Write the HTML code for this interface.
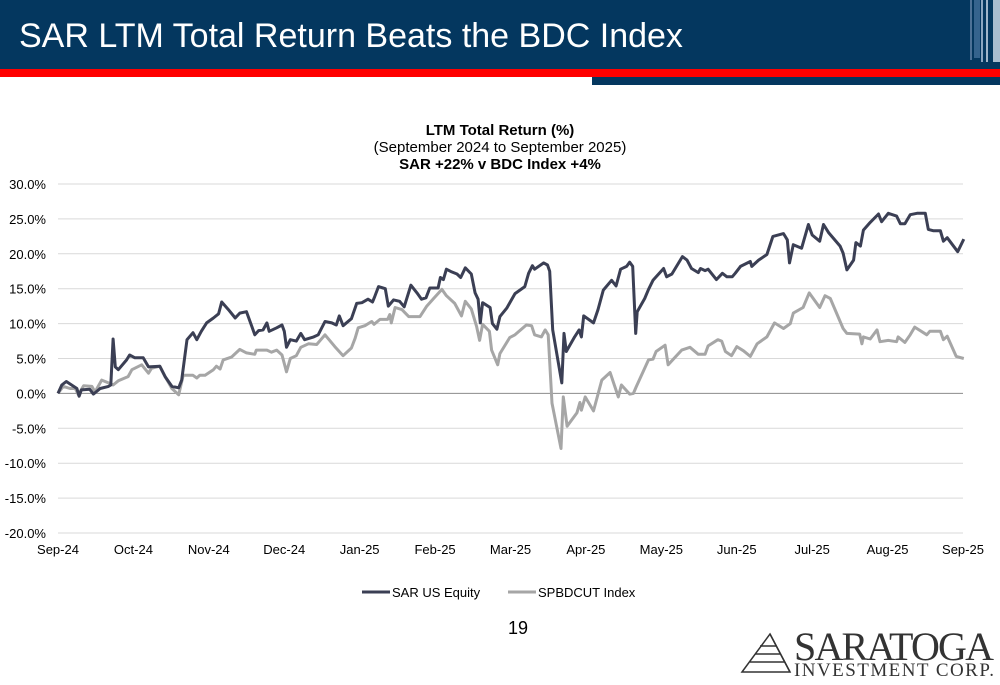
<!DOCTYPE html>
<html><head><meta charset="utf-8"><style>
body{margin:0;width:1000px;height:685px;overflow:hidden;background:#fff;font-family:"Liberation Sans",sans-serif;position:relative}
.hdr{position:absolute;left:0;top:0;width:1000px;height:69px;background:#04375f}
.red{position:absolute;left:0;top:69px;width:1000px;height:8px;background:#ff0000}
.blu{position:absolute;left:592px;top:77px;width:408px;height:8px;background:#04375f}
.ttl{position:absolute;left:19px;top:17px;color:#fff;font-size:34px;white-space:nowrap}
</style></head><body>
<div class="hdr"></div>
<svg style="position:absolute;left:965px;top:0" width="35" height="62">
<rect x="5" y="0" width="2" height="60" fill="#4d7196"/><rect x="9" y="0" width="6" height="58" fill="#35638d"/><rect x="16" y="0" width="2" height="62" fill="#8aa5c0"/><rect x="21" y="0" width="2" height="62" fill="#9fb5ca"/><rect x="28" y="0" width="7" height="62" fill="#a9bdd0"/>
</svg>
<div class="red"></div>
<div class="blu"></div>
<div class="ttl">SAR LTM Total Return Beats the BDC Index</div>
<svg id="chart" style="position:absolute;left:0;top:0" width="1000" height="685">
<text x="500" y="135" text-anchor="middle" font-size="15" font-weight="bold">LTM Total Return (%)</text>
<text x="500" y="152" text-anchor="middle" font-size="15">(September 2024 to September 2025)</text>
<text x="500" y="169" text-anchor="middle" font-size="15" font-weight="bold">SAR +22% v BDC Index +4%</text>
<g id="grid"></g><g id="lines"></g>
<g>
<line x1="362" y1="592" x2="390" y2="592" stroke="#3b3f54" stroke-width="3"/>
<text x="392" y="597" font-size="13">SAR US Equity</text>
<line x1="508" y1="592" x2="536" y2="592" stroke="#a6a6a6" stroke-width="3"/>
<text x="538" y="597" font-size="13">SPBDCUT Index</text>
</g>
<text x="518" y="634" text-anchor="middle" font-size="18">19</text>
<g>
<g stroke="#333" stroke-width="1.5" fill="none">
<path d="M742 672 L770 634 L790 672 Z"/><path d="M750 662 L785 662 M755 654 L780 654 M760 646 L776 646"/><path d="M770 634 L790 672"/>
</g>
<text x="794" y="660" font-family="Liberation Serif,serif" font-size="40" fill="#333" textLength="200">SARATOGA</text>
<text x="794" y="676" font-family="Liberation Serif,serif" font-size="19" fill="#333" textLength="200">INVESTMENT CORP.</text>
</g>
</svg>
<script>
const yTicks=[30,25,20,15,10,5,0,-5,-10,-15,-20];
const xLabels=["Sep-24","Oct-24","Nov-24","Dec-24","Jan-25","Feb-25","Mar-25","Apr-25","May-25","Jun-25","Jul-25","Aug-25","Sep-25"];
const sarT=[0,0.05,0.11,0.18,0.25,0.28,0.31,0.42,0.47,0.56,0.67,0.70,0.73,0.76,0.80,0.91,0.95,1.02,1.13,1.20,1.35,1.42,1.51,1.60,1.64,1.71,1.79,1.84,1.90,1.97,2.06,2.13,2.17,2.26,2.35,2.41,2.50,2.57,2.61,2.66,2.72,2.77,2.80,2.90,2.97,3.00,3.03,3.08,3.16,3.22,3.27,3.39,3.45,3.54,3.63,3.69,3.73,3.78,3.89,3.96,4.03,4.11,4.17,4.20,4.25,4.34,4.38,4.45,4.53,4.59,4.68,4.76,4.82,4.88,4.93,5.04,5.07,5.11,5.15,5.22,5.29,5.34,5.40,5.48,5.53,5.57,5.60,5.63,5.73,5.76,5.82,5.86,5.95,6.06,6.19,6.24,6.29,6.32,6.44,6.49,6.52,6.56,6.68,6.71,6.74,6.85,6.91,6.94,6.97,7.10,7.16,7.23,7.34,7.40,7.46,7.54,7.58,7.62,7.66,7.68,7.78,7.83,7.89,8.03,8.07,8.14,8.28,8.34,8.40,8.49,8.52,8.58,8.62,8.73,8.81,8.87,8.94,8.98,9.05,9.18,9.20,9.29,9.40,9.48,9.62,9.67,9.70,9.75,9.86,9.95,10.00,10.10,10.15,10.22,10.37,10.41,10.46,10.55,10.58,10.64,10.68,10.77,10.88,10.92,11.01,11.12,11.17,11.23,11.30,11.39,11.50,11.54,11.61,11.70,11.74,11.79,11.93,12.01];
const sarV=[0,1.2,1.7,1.2,0.7,-0.4,0.5,0.6,-0.1,0.7,1.0,1.2,7.8,3.8,3.4,4.8,5.5,5.1,5.1,3.8,3.9,2.4,1.0,0.8,1.9,7.7,8.7,7.7,8.9,10.1,10.8,11.4,13.1,12.0,10.8,11.5,11.7,9.6,8.4,9.0,9.1,10.1,8.9,9.4,9.8,8.9,6.6,7.7,7.5,8.6,7.7,8.1,8.4,10.3,10.1,9.8,11.1,9.7,10.7,12.9,13.0,13.5,13.1,13.9,15.3,15.0,12.5,13.4,13.2,12.4,15.5,14.4,13.5,13.7,15.1,15.1,16.6,16.3,17.8,17.4,17.1,16.6,18.0,17.1,14.4,13.5,10.1,13.0,12.3,10.0,9.2,11.0,12.2,14.3,15.3,17.2,18.3,17.8,18.7,18.4,17.5,9.1,1.5,8.6,6.0,8.1,9.1,8.1,11.1,10.1,12.0,14.8,16.2,15.4,17.8,18.2,18.8,18.2,8.6,11.7,13.6,14.9,16.2,17.9,16.7,17.1,19.6,19.1,17.9,17.3,17.9,17.6,17.8,16.3,17.2,16.7,16.7,17.2,18.2,18.9,18.2,19.1,19.9,22.5,22.9,22.0,18.7,21.3,20.8,24.2,22.7,21.8,24.2,23.0,21.1,20.1,17.7,19.1,21.6,21.1,23.4,24.5,25.7,24.6,25.8,25.4,24.3,24.3,25.6,25.8,25.8,23.5,23.3,23.3,21.8,22.3,20.3,22.1];
const bdcT=[0,0.07,0.16,0.23,0.27,0.34,0.45,0.49,0.58,0.67,0.73,0.80,0.93,0.98,1.11,1.20,1.24,1.35,1.42,1.51,1.60,1.66,1.79,1.84,1.88,1.95,2.06,2.10,2.15,2.19,2.30,2.41,2.50,2.61,2.63,2.77,2.83,2.90,2.97,3.03,3.08,3.16,3.22,3.32,3.43,3.54,3.67,3.78,3.89,3.94,3.98,4.07,4.16,4.19,4.27,4.37,4.40,4.42,4.47,4.56,4.65,4.80,4.89,4.98,5.09,5.15,5.26,5.35,5.40,5.48,5.55,5.59,5.63,5.72,5.75,5.83,5.86,5.99,6.06,6.21,6.28,6.32,6.41,6.46,6.50,6.55,6.67,6.70,6.75,6.88,6.92,6.94,6.99,7.10,7.21,7.32,7.43,7.47,7.58,7.63,7.67,7.83,7.89,7.93,8.05,8.09,8.27,8.38,8.49,8.58,8.62,8.75,8.80,8.85,8.93,9.00,9.09,9.18,9.27,9.40,9.50,9.62,9.71,9.75,9.88,9.96,10.10,10.17,10.24,10.41,10.46,10.63,10.66,10.68,10.77,10.86,10.90,11.01,11.12,11.14,11.23,11.30,11.36,11.52,11.56,11.70,11.74,11.79,11.91,12.01];
const bdcV=[0,1.0,0.7,0.7,-0.2,1.1,1.0,0.2,1.9,1.5,1.2,1.8,2.4,3.4,4.1,2.9,3.6,3.9,2.4,0.7,-0.2,2.6,2.6,2.2,2.6,2.6,3.4,3.9,3.5,4.8,5.2,6.3,5.8,5.6,6.2,6.2,5.9,6.2,5.5,3.1,5.0,5.4,6.6,7.1,7.0,8.4,6.7,5.4,6.5,7.9,9.4,9.7,10.3,9.9,10.6,10.6,11.3,10.1,12.3,12.0,11.0,11.0,12.5,13.6,14.9,14.0,12.9,11.1,13.2,12.1,9.6,7.6,9.9,8.9,6.2,4.1,5.7,8.0,8.4,9.8,9.7,8.4,8.1,9.1,8.4,-1.4,-7.9,-0.5,-4.7,-2.8,-1.3,-2.4,-0.5,-2.5,1.9,3.0,-0.5,1.2,-0.1,0,1.0,4.8,4.9,6.0,6.9,4.1,6.2,6.6,5.6,5.6,6.8,7.7,7.5,6.0,5.4,6.7,6.1,5.3,7.1,8.1,10.1,9.3,10.0,11.5,12.3,14.4,12.3,14.0,13.6,9.3,8.6,8.5,7.1,8.1,7.8,9.1,7.4,7.6,7.4,8.1,7.3,8.4,9.5,8.4,8.9,8.9,7.7,8.2,5.3,5.0];
const X0=58,X1=963,Y0=533,Y1=184,VMIN=-20,VMAX=30,TMAX=12;
const xs=t=>X0+(X1-X0)*t/TMAX;
const ys=v=>Y0-(Y0-Y1)*(v-VMIN)/(VMAX-VMIN);
const NS="http://www.w3.org/2000/svg";
const grid=document.getElementById('grid'),lines=document.getElementById('lines');
function mk(tag,attrs,parent){const e=document.createElementNS(NS,tag);for(const k in attrs)e.setAttribute(k,attrs[k]);parent.appendChild(e);return e;}
yTicks.forEach(v=>{
 const l=mk('line',{x1:X0,x2:X1,y1:ys(v),y2:ys(v),stroke:v===0?'#8c8c8c':'#d9d9d9','stroke-width':1},grid);
 
 
 const t=mk('text',{x:46,y:ys(v)+5,'text-anchor':'end','font-size':13},grid);
 t.textContent=v.toFixed(1)+'%';
 
 
});
xLabels.forEach((s,i)=>{
 const t=mk('text',{x:xs(i),y:554,'text-anchor':'middle','font-size':13},grid);
 t.textContent=s;
 
 
});
function series(T,V,color,name){
 const d=T.map((t,i)=>(i?'L':'M')+xs(t).toFixed(1)+' '+ys(V[i]).toFixed(1)).join(' ');
 const p=mk('path',{d:d,fill:'none',stroke:color,'stroke-width':3,'stroke-linejoin':'round'},lines);
 
 
}
series(bdcT,bdcV,'#a6a6a6','bdc-index-line');
series(sarT,sarV,'#3b3f54','sar-line');
</script>
</body></html>
